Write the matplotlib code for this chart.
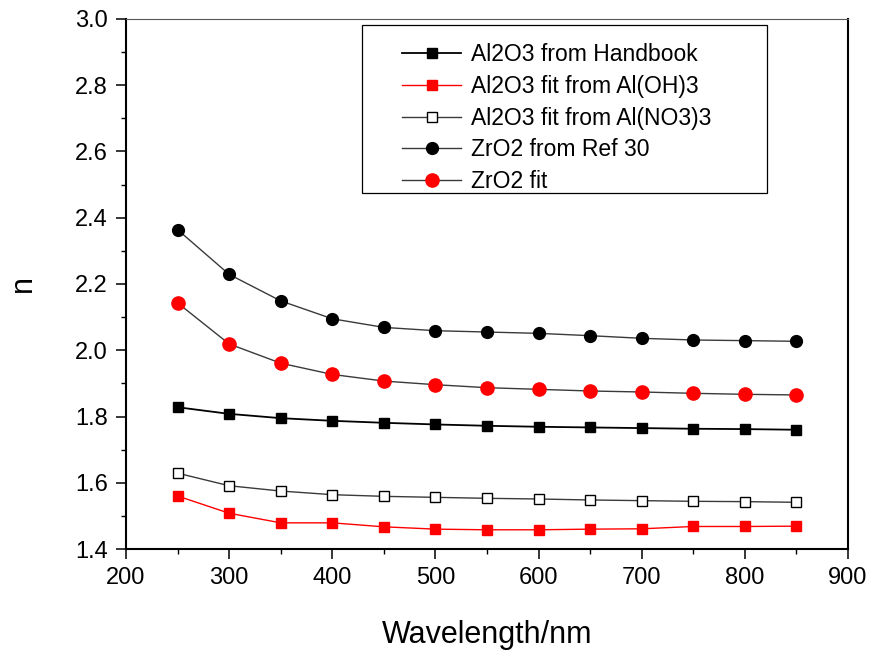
import matplotlib
matplotlib.use("Agg")
import matplotlib.pyplot as plt
from matplotlib.ticker import MultipleLocator
from matplotlib.patches import Rectangle

plt.rcParams["font.family"] = ["Liberation Sans", "DejaVu Sans"]

# ── Data ───────────────────────────────────────────────────────────────
wavelength = [250, 300, 350, 400, 450, 500, 550, 600, 650, 700, 750, 800, 850]

al2o3_handbook = [1.828, 1.808, 1.795, 1.787, 1.781, 1.776, 1.772,
                  1.769, 1.767, 1.765, 1.763, 1.762, 1.760]
al2o3_fit_oh = [1.560, 1.508, 1.479, 1.479, 1.467, 1.460, 1.458,
                1.458, 1.460, 1.461, 1.468, 1.468, 1.469]
al2o3_fit_no3 = [1.629, 1.591, 1.575, 1.564, 1.559, 1.556, 1.553,
                 1.551, 1.548, 1.546, 1.544, 1.543, 1.541]
zro2_ref30 = [2.364, 2.229, 2.149, 2.095, 2.069, 2.059, 2.055,
              2.051, 2.044, 2.036, 2.031, 2.029, 2.027]
zro2_fit = [2.143, 2.019, 1.961, 1.927, 1.907, 1.896, 1.887,
            1.882, 1.877, 1.874, 1.870, 1.867, 1.865]

labels = ["Al2O3 from Handbook", "Al2O3 fit from Al(OH)3",
          "Al2O3 fit from Al(NO3)3", "ZrO2 from Ref 30", "ZrO2 fit"]

# ── Figure ─────────────────────────────────────────────────────────────
fig = plt.figure(figsize=(8.78, 6.59), dpi=100)
ax = fig.add_axes([0.1435, 0.1669, 0.8223, 0.8043])

line_grey = "#3a3a3a"
ax.plot(wavelength, al2o3_handbook, color="black", lw=1.3, marker="s",
        ms=7.5, mfc="black", mec="black", label=labels[0])
ax.plot(wavelength, al2o3_fit_oh, color="red", lw=1.0, marker="s",
        ms=7.5, mfc="red", mec="red", label=labels[1])
ax.plot(wavelength, al2o3_fit_no3, color=line_grey, lw=1.0, marker="s",
        ms=7.5, mfc="white", mec="black", mew=1.0, label=labels[2])
ax.plot(wavelength, zro2_ref30, color=line_grey, lw=1.0, marker="o",
        ms=8.5, mfc="black", mec="black", label=labels[3])
ax.plot(wavelength, zro2_fit, color=line_grey, lw=1.0, marker="o",
        ms=9.5, mfc="red", mec="red", label=labels[4])

# ── Axes ───────────────────────────────────────────────────────────────
ax.set_xlim(200, 900)
ax.set_ylim(1.4, 3.0)
ax.xaxis.set_major_locator(MultipleLocator(100))
ax.xaxis.set_minor_locator(MultipleLocator(50))
ax.yaxis.set_major_locator(MultipleLocator(0.2))
ax.yaxis.set_minor_locator(MultipleLocator(0.1))
ax.yaxis.set_major_formatter(plt.FormatStrFormatter("%.1f"))

ax.tick_params(axis="both", which="major", direction="out", length=7,
               width=1.1, labelsize=17, pad=6)
ax.tick_params(axis="both", which="minor", direction="out", length=3.8,
               width=1.0)
ax.tick_params(axis="y", which="both", right=False)
ax.tick_params(axis="x", which="both", top=False)

ax.spines["left"].set_linewidth(1.5)
ax.spines["bottom"].set_linewidth(1.5)
ax.spines["right"].set_linewidth(1.5)
ax.spines["top"].set_linewidth(0.8)
ax.spines["top"].set_color("#555555")

ax.set_xlabel("Wavelength/nm", fontsize=22, labelpad=22)
ax.set_ylabel("n", fontsize=22, labelpad=27)

# ── Legend: frame drawn separately, entries placed inside ──────────────
ax.add_patch(Rectangle((0.327, 0.672), 0.561, 0.317, transform=ax.transAxes,
                       facecolor="white", edgecolor="black", lw=0.9,
                       zorder=4))
leg = ax.legend(loc="upper left", bbox_to_anchor=(0.382, 0.954),
                fontsize=16.5, frameon=False, handlelength=2.6,
                handletextpad=0.4, labelspacing=0.38, borderpad=0.0,
                borderaxespad=0.0)
leg.set_zorder(5)

fig.savefig("out.png", dpi=100, facecolor="white")
